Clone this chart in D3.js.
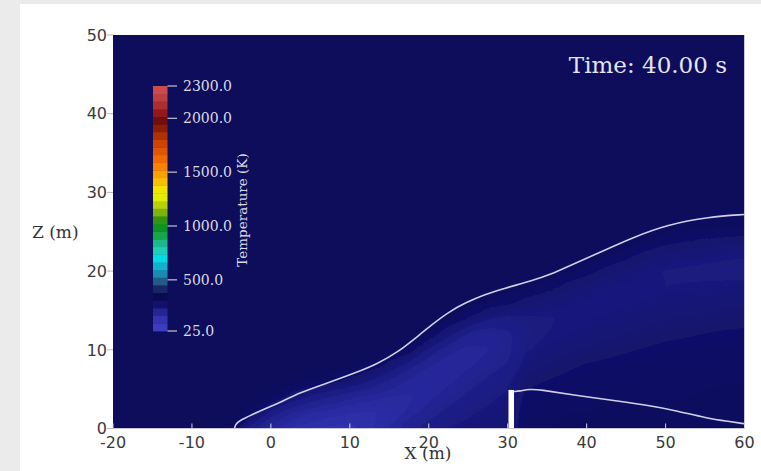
<!DOCTYPE html>
<html><head><meta charset="utf-8">
<script src="https://cdn.jsdelivr.net/npm/d3@7"></script>
<style>body{margin:0;background:#fff}svg{display:block}</style>
</head><body>
<svg id="c" width="761" height="471"></svg>
<script>
// ---------- data ----------
const xTicks = [-20, -10, 0, 10, 20, 30, 40, 50, 60];
const zTicks = [0, 10, 20, 30, 40, 50];
const cbTicks = [25, 500, 1000, 1500, 2000, 2300];
const cbTickLabels = ["25.0", "500.0", "1000.0", "1500.0", "2000.0", "2300.0"];
const timeLabel = "Time: 40.00 s";

// colour map (temperature K -> colour)
const cmapValues = [25, 100, 170, 240, 300, 360, 430, 490, 560, 635, 710, 790, 865, 940, 1025, 1100, 1165, 1275, 1350, 1425, 1500, 1585, 1675, 1760, 1840, 1915, 1990, 2065, 2150, 2250, 2300];
const cmapColors = ["#3e3ec4", "#3a3abc", "#2c2ca4", "#1c1c84", "#0b0b5b", "#0a0a4c", "#1c2e6a", "#245c88", "#1a8cb0", "#12b4d0", "#06e0e6", "#22c8b0", "#1cb078", "#10a030", "#0e8a14", "#60a810", "#a4c40a", "#e4ee00", "#f4e000", "#f8b800", "#fc9800", "#fa7400", "#e65a00", "#d04500", "#ae3202", "#8c1d04", "#6e0c0c", "#9a1c1c", "#b53636", "#c94b4b", "#c94b4b"];

// temperature field: grid nodes, columns listed from z = 0 upward (missing = ambient)
const ambientT = 300;
const gridX = [-20, -17.5, -15, -12.5, -10, -7.5, -5, -2.5, 0, 2.5, 5, 7.5, 10, 12.5, 15, 17.5, 20, 22.5, 25, 27.5, 30, 32.5, 35, 37.5, 40, 42.5, 45, 47.5, 50, 52.5, 55, 57.5, 60];
const gridZ = [0, 2, 4, 6, 8, 10, 12, 14, 16, 18, 20, 22, 24, 26, 28, 30, 32, 34, 36, 38, 40, 42, 44, 46, 48, 50, 52];
const tempColumns = [
  [], [], [], [], [], [],
  [292],
  [235, 288],
  [190, 240, 296],
  [165, 205, 270],
  [155, 185, 245, 296],
  [150, 175, 225, 285],
  [150, 168, 208, 272],
  [162, 165, 195, 248, 292],
  [188, 172, 188, 220, 270],
  [218, 192, 185, 198, 235, 288],
  [238, 215, 195, 190, 205, 245, 293],
  [252, 235, 215, 198, 193, 210, 258, 296],
  [258, 248, 232, 215, 200, 196, 222, 277],
  [262, 257, 245, 232, 214, 203, 208, 252, 292],
  [268, 263, 257, 244, 230, 220, 222, 243, 283],
  [290, 290, 285, 275, 262, 250, 246, 248, 271, 296],
  [292, 290, 286, 280, 269, 258, 252, 251, 260, 287],
  [292, 292, 290, 285, 276, 264, 255, 253, 257, 273, 296],
  [292, 292, 291, 288, 281, 270, 260, 254, 254, 263, 286],
  [293, 293, 292, 290, 284, 274, 264, 257, 252, 256, 273, 296],
  [293, 293, 292, 290, 286, 278, 268, 260, 254, 253, 263, 285],
  [294, 293, 292, 291, 287, 281, 272, 264, 257, 252, 256, 273, 295],
  [294, 293, 292, 291, 288, 284, 276, 267, 259, 252, 251, 263, 288],
  [295, 294, 292, 291, 289, 285, 278, 269, 261, 253, 249, 259, 282],
  [295, 294, 293, 291, 290, 286, 280, 271, 262, 254, 248, 256, 278, 298],
  [295, 294, 293, 292, 290, 287, 282, 273, 264, 255, 247, 254, 276, 297],
  [295, 294, 293, 292, 290, 288, 283, 275, 265, 256, 247, 253, 275, 296]
];

// plume boundary (upper iso-line) and wake line behind the wall
const upperLine = [[-4.6,0],[-4.5,0.5],[-4.0,1.0],[-2.3,1.8],[-0.8,2.5],[1.2,3.3],[3.5,4.5],[7.5,5.9],[10.5,7.0],[13.5,8.2],[16.2,9.8],[18.2,11.4],[20.4,13.2],[22.5,14.8],[24.7,16.0],[27,17.0],[29.5,17.8],[33.2,18.8],[35.5,19.6],[37.5,20.5],[41.7,22.4],[45.9,24.3],[50.2,25.9],[55.5,26.9],[60,27.2]];
const lowerLine = [[30.8,4.7],[31.5,4.75],[32.8,5.0],[34,4.95],[38.3,4.25],[44.6,3.4],[48,2.9],[51,2.35],[55.3,1.3],[58,0.9],[60,0.6]];
const wall = {x0: 30.1, x1: 30.8, z0: 0, z1: 4.9};

// ---------- drawing ----------
const svg = d3.select("#c");
const W = 761, H = 471;
const x = d3.scaleLinear([-20, 60], [113, 744.5]);
const z = d3.scaleLinear([0, 50], [428.5, 35]);
const color = d3.scaleLinear(cmapValues, cmapColors).clamp(true);

// outer frame
svg.append("rect").attr("width", W).attr("height", H).attr("fill", "#ebebeb");
svg.append("rect").attr("x", 20).attr("y", 4).attr("width", W - 20).attr("height", H - 4).attr("fill", "#ffffff");

const defs = svg.append("defs");
defs.append("clipPath").attr("id", "plotClip").append("rect")
  .attr("x", x(-20)).attr("y", z(50)).attr("width", x(60) - x(-20)).attr("height", z(0) - z(50));
const blur = defs.append("filter").attr("id", "soft").attr("x", "-5%").attr("y", "-5%").attr("width", "110%").attr("height", "110%");
blur.append("feGaussianBlur").attr("stdDeviation", 2.5);

const plot = svg.append("g").attr("clip-path", "url(#plotClip)");
plot.append("rect").attr("x", x(-20)).attr("y", z(50)).attr("width", x(60) - x(-20)).attr("height", z(0) - z(50))
  .attr("fill", color(ambientT));

// build field grid
const nx = gridX.length, nz = gridZ.length;
const values = new Array(nx * nz);
for (let j = 0; j < nz; j++) for (let i = 0; i < nx; i++) {
  const col = tempColumns[i];
  values[j * nx + i] = j < col.length ? col[j] : ambientT;
}
const dxg = gridX[1] - gridX[0], dzg = gridZ[1] - gridZ[0];
const thresholds = d3.range(140, ambientT + 1, 4);
const contours = d3.contours().size([nx, nz]).thresholds(thresholds)(values);
const proj = d3.geoTransform({
  point: function(gx, gz) {
    this.stream.point(x(gridX[0] + (gx - 0.5) * dxg), z(gridZ[0] + (gz - 0.5) * dzg));
  }
});
const path = d3.geoPath(proj);
plot.append("g").attr("filter", "url(#soft)")
  .selectAll("path").data(contours).join("path")
  .attr("d", path).attr("fill", d => color(d.value)).attr("stroke", "none");

// iso-lines
const line = d3.line().x(d => x(d[0])).y(d => z(d[1])).curve(d3.curveBasis);
plot.append("path").attr("d", line(upperLine)).attr("fill", "none").attr("stroke", "#cfd0e6").attr("stroke-width", 1.6);
plot.append("path").attr("d", line(lowerLine)).attr("fill", "none").attr("stroke", "#cfd0e6").attr("stroke-width", 1.6);
// wall
plot.append("rect").attr("x", x(wall.x0)).attr("y", z(wall.z1)).attr("width", x(wall.x1) - x(wall.x0)).attr("height", z(wall.z0) - z(wall.z1)).attr("fill", "#ffffff");

// bottom / right edge lines
svg.append("line").attr("x1", x(-20)).attr("x2", x(60)).attr("y1", z(0)).attr("y2", z(0)).attr("stroke", "#c8c8dc").attr("stroke-width", 1);
svg.append("line").attr("x1", x(60)).attr("x2", x(60)).attr("y1", z(50)).attr("y2", z(0)).attr("stroke", "#c8c8dc").attr("stroke-width", 1);

// x ticks (inside) and labels
const xAxis = svg.append("g");
xAxis.selectAll("line").data(xTicks).join("line")
  .attr("x1", d => x(d)).attr("x2", d => x(d)).attr("y1", z(0)).attr("y2", z(0) - 5)
  .attr("stroke", "#d4d4e4").attr("stroke-width", 1);
xAxis.selectAll("text").data(xTicks).join("text")
  .attr("x", d => x(d)).attr("y", 448).attr("text-anchor", "middle")
  .attr("font-family", "DejaVu Sans").attr("font-size", 16).attr("fill", "#3a3a3a")
  .text(d => d);

// z ticks (outside) and labels
const zAxis = svg.append("g");
zAxis.selectAll("line").data(zTicks).join("line")
  .attr("x1", x(-20) - 6).attr("x2", x(-20)).attr("y1", d => z(d)).attr("y2", d => z(d))
  .attr("stroke", "#b8b8b8").attr("stroke-width", 1);
zAxis.selectAll("text").data(zTicks).join("text")
  .attr("x", 107).attr("y", d => z(d)).attr("dy", "0.36em").attr("text-anchor", "end")
  .attr("font-family", "DejaVu Sans").attr("font-size", 16).attr("fill", "#3a3a3a")
  .text(d => d);

// axis titles
svg.append("text").attr("x", 428).attr("y", 459).attr("text-anchor", "middle")
  .attr("font-family", "DejaVu Serif").attr("font-size", 17).attr("fill", "#333").text("X (m)");
svg.append("text").attr("x", 32).attr("y", 238).attr("text-anchor", "start")
  .attr("font-family", "DejaVu Serif").attr("font-size", 17).attr("fill", "#333").text("Z (m)");

// time label
svg.append("text").attr("x", 727).attr("y", 73).attr("text-anchor", "end")
  .attr("font-family", "DejaVu Serif").attr("font-size", 23).attr("fill", "#e4e4ee").text(timeLabel);

// colour bar
const cb = d3.scaleLinear([25, 2300], [331, 86]);
const nBands = 32;
const bandEdges = d3.range(nBands + 1).map(k => 25 + k * (2300 - 25) / nBands);
const cbG = svg.append("g");
cbG.selectAll("rect").data(d3.range(nBands)).join("rect")
  .attr("x", 153).attr("width", 14.5)
  .attr("y", k => cb(bandEdges[k + 1])).attr("height", k => cb(bandEdges[k]) - cb(bandEdges[k + 1]) + 0.4)
  .attr("fill", k => color((bandEdges[k] + bandEdges[k + 1]) / 2));
cbG.selectAll("line").data(cbTicks).join("line")
  .attr("x1", 167.5).attr("x2", 177).attr("y1", d => cb(d)).attr("y2", d => cb(d))
  .attr("stroke", "#c4c4d4").attr("stroke-width", 1.2);
cbG.selectAll("text").data(cbTicks).join("text")
  .attr("x", 183).attr("y", d => cb(d)).attr("dy", "0.36em")
  .attr("font-family", "DejaVu Serif").attr("font-size", 14).attr("fill", "#dcdce4")
  .text((d, i) => cbTickLabels[i]);
svg.append("text").attr("transform", "translate(247,210) rotate(-90)").attr("text-anchor", "middle")
  .attr("font-family", "DejaVu Serif").attr("font-size", 13.5).attr("fill", "#dcdce4").text("Temperature (K)");
</script>
</body></html>
